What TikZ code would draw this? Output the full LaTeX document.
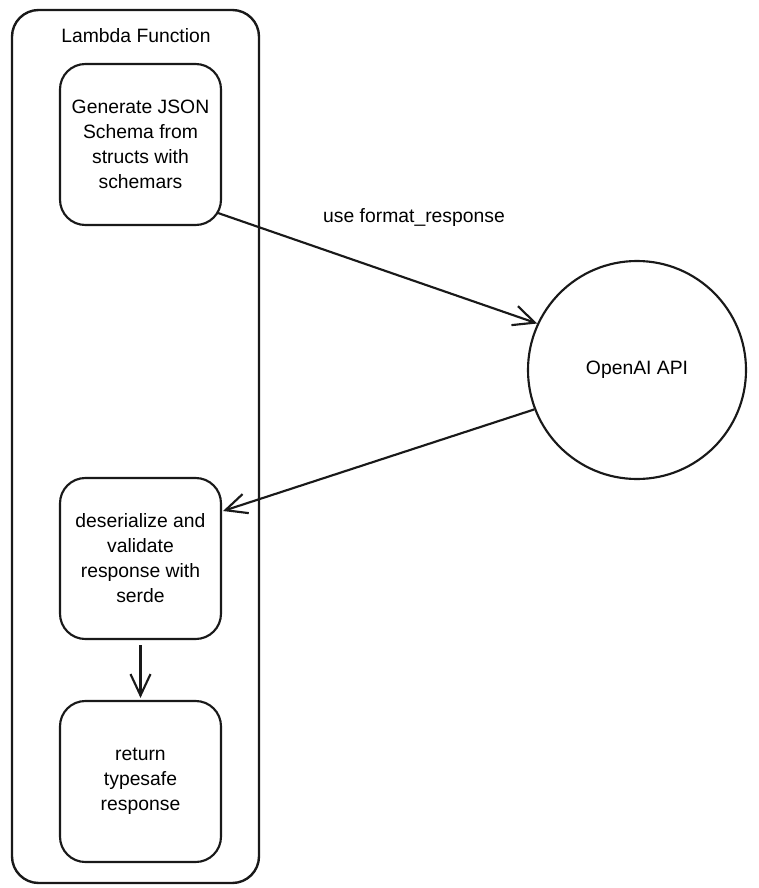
\documentclass[tikz,border=0pt]{standalone}
\usepackage{fontspec}
\setmainfont{Liberation Sans}
\usetikzlibrary{arrows.meta}
\begin{document}
\begin{tikzpicture}[x=0.75pt,y=-0.75pt,
  every node/.style={font=\fontsize{14.5}{18.75}\selectfont},
  box/.style={draw=black!90,line width=1.6pt,rounded corners=19pt,minimum width=120.75pt,minimum height=120.75pt,inner sep=0pt,align=center},
  frame/.style={draw=black!90,line width=1.8pt,rounded corners=20pt,minimum width=185.25pt,minimum height=654.75pt,inner sep=0pt},
  conn/.style={line width=1.6pt,black!90,-{Straight Barb[length=16pt,width=15pt,line width=1.6pt]}},
  lbl/.style={inner sep=0pt}]
\useasboundingbox (0,0) rectangle (759,888);
\node[frame] (lambda) at (135.5,446.5) {};
\node[lbl] (lambdalbl) at (136,36) {Lambda Function};
\node[box] (b1) at (140.5,144.5) {Generate JSON\\Schema from\\structs with\\schemars};
\node[box] (b2) at (140.5,558.5) {deserialize and\\validate\\response with\\serde};
\node[box] (b3) at (140.5,781.5) {return\\typesafe\\response};
\node[draw=black!90,line width=1.6pt,circle,minimum size=163.5pt,inner sep=0pt] (api) at (637,370) {OpenAI API};
\node[lbl] (fmt) at (414,218) {use format\_response};
\coordinate (a1s) at (218,213);
\coordinate (a2e) at (223,511);
\draw[conn] (a1s) -- (api.155.5);
\draw[conn] (api.201) -- (a2e);
\draw[conn,line width=2pt,shorten <=4pt,shorten >=1.5pt] (b2.south) -- (b3.north);
\end{tikzpicture}
\end{document}
